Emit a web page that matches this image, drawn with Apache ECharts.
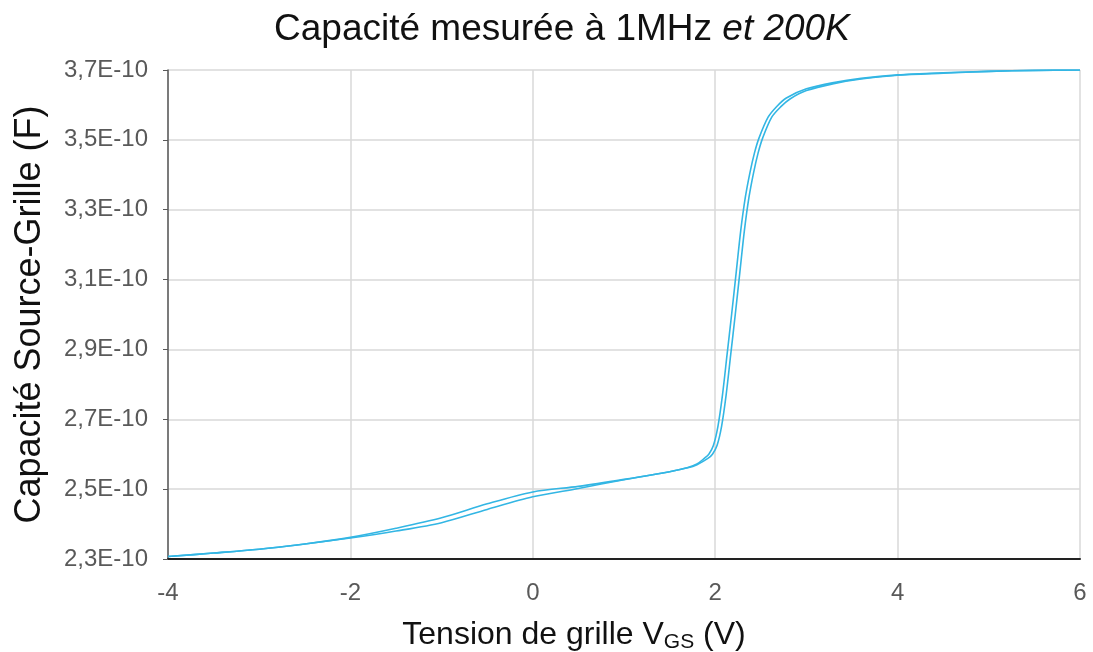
<!DOCTYPE html>
<html>
<head>
<meta charset="utf-8">
<title>Capacité mesurée à 1MHz et 200K</title>
<script src="https://cdn.jsdelivr.net/npm/echarts@6/dist/echarts.min.js"></script>
<style>
  html, body { margin: 0; padding: 0; background: #fff; }
  #chart { width: 1093px; height: 652px; }
</style>
</head>
<body>
<div id="chart"></div>
<script>
// tension de grille (V) et capacité (en unités de 1E-10 F), deux balayages
const vgsAller = [-4, -3.5, -3, -2.5, -2, -1.5, -1, -0.5, 0, 0.5, 1, 1.5, 1.7, 1.8, 1.88, 1.93, 1.98, 2.03, 2.08, 2.13, 2.18, 2.23, 2.28, 2.33, 2.38, 2.43, 2.48, 2.58, 2.68, 2.78, 3.0, 3.3, 3.6, 4, 4.5, 5, 5.5, 6];
const capAller = [2.307, 2.317, 2.328, 2.343, 2.362, 2.388, 2.418, 2.458, 2.492, 2.508, 2.528, 2.55, 2.562, 2.572, 2.588, 2.6, 2.625, 2.68, 2.77, 2.885, 3.0, 3.12, 3.24, 3.335, 3.405, 3.462, 3.505, 3.565, 3.597, 3.62, 3.646, 3.664, 3.676, 3.686, 3.692, 3.696, 3.699, 3.7];

const vgsRetour = [-4, -3.5, -3, -2.5, -2, -1.5, -1, -0.5, 0, 0.5, 1, 1.5, 1.7, 1.8, 1.92, 1.97, 2.02, 2.07, 2.12, 2.17, 2.22, 2.27, 2.32, 2.37, 2.42, 2.47, 2.52, 2.62, 2.72, 2.82, 3.0, 3.3, 3.6, 4, 4.5, 5, 5.5, 6];
const capRetour = [2.307, 2.317, 2.328, 2.343, 2.36, 2.38, 2.404, 2.442, 2.478, 2.502, 2.527, 2.55, 2.561, 2.57, 2.588, 2.6, 2.625, 2.68, 2.77, 2.885, 3.0, 3.12, 3.24, 3.335, 3.405, 3.462, 3.505, 3.565, 3.595, 3.617, 3.641, 3.661, 3.674, 3.685, 3.691, 3.696, 3.699, 3.7];

const FONT = '"Liberation Sans", Arial, sans-serif';
const LINE_COLOR = '#33b6e4';

function pairs(xs, ys) {
  return xs.map((x, i) => [x, ys[i]]);
}

const chart = echarts.init(document.getElementById('chart'));
chart.setOption({
  animation: false,
  textStyle: { fontFamily: FONT },
  title: {
    text: '{n|Capacité mesurée à 1MHz }{i|et 200K}',
    left: 269,
    top: 6,
    textStyle: {
      rich: {
        n: { fontSize: 37, color: '#111', fontWeight: 'normal', fontFamily: FONT },
        i: { fontSize: 37, color: '#111', fontWeight: 'normal', fontStyle: 'italic', fontFamily: FONT }
      }
    }
  },
  grid: { left: 168, right: 13, top: 70, bottom: 93, outerBoundsMode: 'none' },
  xAxis: {
    type: 'value',
    min: -4,
    max: 6,
    interval: 2,
    name: '{a|Tension de grille V}{s|GS}{a| (V)}',
    nameLocation: 'middle',
    nameGap: 58,
    nameTextStyle: {
      padding: [0, 100, 0, 0],
      rich: {
        a: { fontSize: 32, color: '#111', lineHeight: 36, fontFamily: FONT },
        s: { fontSize: 21, color: '#111', lineHeight: 18, verticalAlign: 'bottom', fontFamily: FONT }
      }
    },
    axisLine: { show: true, lineStyle: { color: '#222', width: 2 } },
    axisTick: { show: false },
    axisLabel: { color: '#595959', fontSize: 24, margin: 22, fontFamily: FONT },
    splitLine: { show: true, lineStyle: { color: '#d9d9d9', width: 1.5 } }
  },
  yAxis: {
    type: 'value',
    min: 2.3,
    max: 3.7,
    interval: 0.2,
    name: 'Capacité Source-Grille (F)',
    nameLocation: 'middle',
    nameGap: 120,
    nameTextStyle: { fontSize: 36, color: '#111', fontFamily: FONT },
    axisLine: { show: true, onZero: false, lineStyle: { color: '#595959', width: 1.5 } },
    axisTick: { show: true, length: 5, lineStyle: { color: '#595959' } },
    axisLabel: {
      color: '#595959',
      fontSize: 24,
      margin: 20,
      fontFamily: FONT,
      formatter: v => v.toFixed(1).replace('.', ',') + 'E-10'
    },
    splitLine: { show: true, lineStyle: { color: '#d9d9d9', width: 1.5 } }
  },
  series: [
    {
      name: 'aller',
      type: 'line',
      data: pairs(vgsAller, capAller),
      smooth: 0.3,
      showSymbol: false,
      lineStyle: { color: LINE_COLOR, width: 1.6 }
    },
    {
      name: 'retour',
      type: 'line',
      data: pairs(vgsRetour, capRetour),
      smooth: 0.3,
      showSymbol: false,
      lineStyle: { color: LINE_COLOR, width: 1.6 }
    }
  ]
});
</script>
</body>
</html>
